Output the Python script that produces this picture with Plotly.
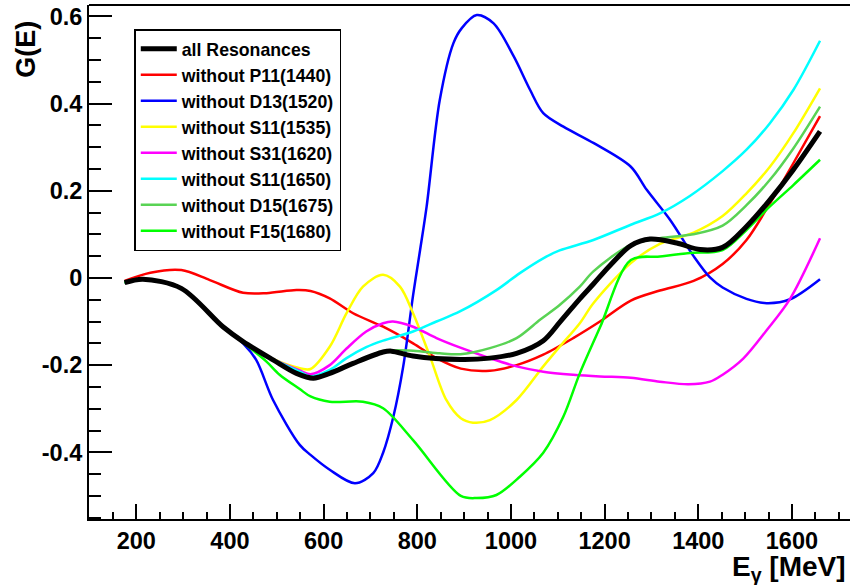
import plotly.graph_objects as go

# ---------------- data ----------------
E_all = [175, 214, 296, 385, 428, 492, 542, 578, 613, 663, 727, 745, 791, 893, 955, 1012,
         1069, 1104, 1147, 1176, 1211, 1256, 1297, 1354, 1404, 1452, 1503, 1553, 1603, 1660]
G_all = [-0.011, -0.003, -0.024, -0.112, -0.146, -0.188, -0.219, -0.230, -0.219, -0.196, -0.170,
         -0.168, -0.179, -0.187, -0.184, -0.173, -0.144, -0.102, -0.048, -0.014, 0.028, 0.074,
         0.089, 0.080, 0.065, 0.070, 0.118, 0.179, 0.248, 0.336]

E_p11 = [175, 230, 296, 357, 428, 478, 542, 572, 613, 663, 727, 791, 841, 893, 955, 1012,
         1069, 1133, 1190, 1256, 1318, 1390, 1452, 1503, 1553, 1603, 1660]
G_p11 = [-0.007, 0.012, 0.018, -0.005, -0.034, -0.035, -0.028, -0.030, -0.047, -0.081, -0.112,
         -0.150, -0.184, -0.208, -0.213, -0.200, -0.176, -0.138, -0.100, -0.052, -0.029, -0.007,
         0.032, 0.087, 0.171, 0.263, 0.371]

E_d13 = [175, 214, 296, 385, 428, 456, 492, 549, 572, 613, 667, 706, 727, 749, 770, 791, 806,
         820, 848, 877, 895, 927, 963, 1006, 1041, 1069, 1112, 1177, 1256, 1290, 1340, 1390,
         1425, 1452, 1503, 1546, 1596, 1660]
G_d13 = [-0.011, -0.003, -0.024, -0.112, -0.150, -0.188, -0.280, -0.383, -0.406, -0.440, -0.471,
         -0.448, -0.401, -0.318, -0.203, -0.040, 0.064, 0.164, 0.408, 0.538, 0.573, 0.603, 0.584,
         0.508, 0.431, 0.378, 0.347, 0.309, 0.255, 0.202, 0.133, 0.050, 0.001, -0.022, -0.048,
         -0.058, -0.049, -0.003]

E_s11a = [175, 214, 296, 385, 428, 492, 549, 572, 613, 649, 684, 727, 763, 791, 827, 862, 893,
          919, 955, 1012, 1069, 1104, 1147, 1176, 1256, 1318, 1390, 1452, 1503, 1553, 1603, 1660]
G_s11a = [-0.011, -0.003, -0.024, -0.112, -0.146, -0.186, -0.207, -0.209, -0.158, -0.081, -0.020,
          0.007, -0.020, -0.081, -0.180, -0.280, -0.322, -0.332, -0.326, -0.280, -0.203, -0.158,
          -0.104, -0.058, 0.034, 0.078, 0.104, 0.142, 0.194, 0.255, 0.332, 0.435]

E_s31 = [175, 214, 296, 385, 428, 492, 549, 572, 613, 649, 691, 727, 748, 791, 841, 892, 955,
         1012, 1069, 1133, 1190, 1256, 1318, 1379, 1425, 1452, 1496, 1546, 1596, 1660]
G_s31 = [-0.011, -0.003, -0.024, -0.112, -0.146, -0.186, -0.212, -0.221, -0.200, -0.162, -0.123,
         -0.104, -0.100, -0.112, -0.138, -0.160, -0.184, -0.203, -0.215, -0.222, -0.226, -0.229,
         -0.238, -0.244, -0.238, -0.222, -0.185, -0.120, -0.048, 0.091]

E_s11b = [175, 214, 296, 385, 428, 492, 549, 572, 613, 649, 691, 727, 791, 841, 891, 969, 1019,
          1069, 1104, 1176, 1256, 1318, 1382, 1452, 1503, 1553, 1603, 1660]
G_s11b = [-0.011, -0.003, -0.024, -0.112, -0.146, -0.186, -0.215, -0.226, -0.211, -0.184, -0.159,
          -0.144, -0.123, -0.100, -0.077, -0.028, 0.011, 0.045, 0.063, 0.087, 0.122, 0.148, 0.188,
          0.245, 0.294, 0.355, 0.431, 0.544]

E_d15 = [175, 214, 296, 385, 428, 492, 542, 578, 613, 663, 727, 791, 848, 892, 955, 1012, 1062,
         1104, 1147, 1176, 1256, 1318, 1389, 1452, 1503, 1553, 1603, 1660]
G_d15 = [-0.011, -0.003, -0.024, -0.112, -0.146, -0.188, -0.219, -0.230, -0.219, -0.196, -0.168,
         -0.167, -0.173, -0.175, -0.161, -0.138, -0.096, -0.062, -0.020, 0.015, 0.076, 0.091,
         0.100, 0.120, 0.167, 0.225, 0.297, 0.393]

E_f15 = [175, 214, 296, 385, 428, 478, 506, 549, 572, 613, 684, 727, 791, 893, 927, 969, 1019,
         1069, 1112, 1147, 1190, 1256, 1318, 1382, 1452, 1503, 1553, 1603, 1660]
G_f15 = [-0.011, -0.003, -0.024, -0.112, -0.148, -0.192, -0.222, -0.255, -0.272, -0.284, -0.284,
         -0.299, -0.372, -0.500, -0.505, -0.498, -0.456, -0.401, -0.318, -0.219, -0.114, 0.041,
         0.049, 0.057, 0.064, 0.110, 0.164, 0.213, 0.271]

y_tickvals = [-0.4, -0.2, 0, 0.2, 0.4, 0.6]
y_ticktext = ["-0.4", "-0.2", "0", "0.2", "0.4", "0.6"]

series = [
    ("without P11(1440)", E_p11, G_p11, "#ff0000"),
    ("without D13(1520)", E_d13, G_d13, "#0000ff"),
    ("without S11(1535)", E_s11a, G_s11a, "#ffff00"),
    ("without S31(1620)", E_s31, G_s31, "#ff00ff"),
    ("without S11(1650)", E_s11b, G_s11b, "#00ffff"),
    ("without D15(1675)", E_d15, G_d15, "#59d354"),
    ("without F15(1680)", E_f15, G_f15, "#00ff00"),
]

FONT = "Liberation Sans, Arial, sans-serif"

fig = go.Figure()
for i, (name, xs, ys, col) in enumerate(series):
    fig.add_trace(go.Scatter(x=xs, y=ys, mode="lines", name=name, legendrank=i + 2,
                             line=dict(color=col, width=2.5, shape="spline", smoothing=0.9)))
# black curve drawn on top, but listed first in legend
fig.add_trace(go.Scatter(x=E_all, y=G_all, mode="lines", name="all Resonances", legendrank=1,
                         line=dict(color="black", width=5, shape="spline", smoothing=0.9)))

fig.update_layout(
    width=850, height=585,
    margin=dict(l=89, r=0, t=5, b=66, autoexpand=False),
    paper_bgcolor="white", plot_bgcolor="white",
    font=dict(family=FONT, color="black"),
    showlegend=True,
    legend=dict(x=0.0595, y=0.953, xanchor="left", yanchor="top",
                bordercolor="black", borderwidth=1.5, bgcolor="white",
                font=dict(family=FONT, size=17.7, weight="bold", color="black"),
                tracegroupgap=0, itemwidth=36),
    xaxis=dict(range=[99, 1724], tick0=0, dtick=200, showgrid=False, zeroline=False,
               automargin=False,
               showline=True, linecolor="black", linewidth=2,
               ticks="inside", ticklen=15, tickwidth=2, tickcolor="black",
               minor=dict(ticks="inside", ticklen=7.5, tickwidth=2, dtick=50, tick0=0,
                          tickcolor="black", showgrid=False),
               tickfont=dict(family=FONT, size=23.5, weight="bold", color="black")),
    yaxis=dict(range=[-0.553, 0.626], tickvals=y_tickvals, ticktext=y_ticktext,
               showgrid=False, zeroline=False, automargin=False,
               showline=True, linecolor="black", linewidth=2,
               ticks="inside", ticklen=23, tickwidth=2, tickcolor="black",
               minor=dict(ticks="inside", ticklen=11.5, tickwidth=2, dtick=0.05, tick0=0,
                          tickcolor="black", showgrid=False),
               tickfont=dict(family=FONT, size=23.5, weight="bold", color="black")),
    shapes=[dict(type="line", xref="paper", yref="paper", x0=0, x1=1, y0=1, y1=1,
                 line=dict(color="black", width=2))],
    annotations=[
        dict(text="G(E)", xref="paper", yref="paper", x=-0.082, y=0.914, xanchor="center",
             yanchor="middle", textangle=-90, showarrow=False,
             font=dict(family=FONT, size=27, weight="bold", color="black")),
        dict(text="E<sub>γ</sub> [MeV]", xref="paper", yref="paper", x=0.997, y=-0.096,
             xanchor="right", yanchor="middle", showarrow=False,
             font=dict(family=FONT, size=28, weight="bold", color="black")),
    ],
)

fig.write_html("out.html", config={"displayModeBar": False},
               post_script="document.body.style.margin='0';document.body.style.overflow='hidden';")
